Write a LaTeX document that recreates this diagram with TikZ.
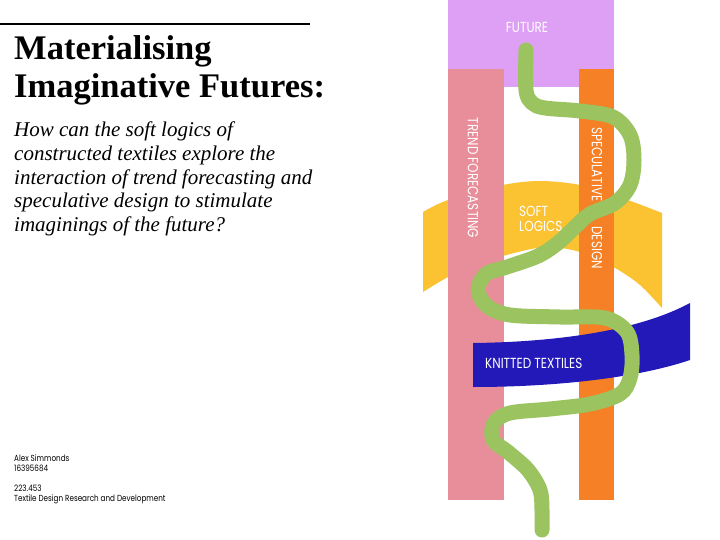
\documentclass[tikz,border=0pt]{standalone}
\usepackage{fontspec}
\setmainfont{Liberation Serif}
\newfontfamily\labfont[FakeStretch=0.82]{Poppins}
\definecolor{cpurple}{RGB}{221,160,245}
\definecolor{cpink}{RGB}{232,142,154}
\definecolor{corange}{RGB}{245,128,37}
\definecolor{cyellow}{RGB}{251,194,50}
\definecolor{cblue}{RGB}{35,25,185}
\definecolor{cgreen}{RGB}{155,195,95}
\begin{document}
\begin{tikzpicture}[x=1pt,y=-1pt,
  barlabel/.style={text=white,inner sep=0pt,font=\labfont\fontsize{14.6}{14}\selectfont},
  infotext/.style={inner sep=0pt,align=left,font=\labfont\fontsize{8.8}{10}\selectfont}]
\useasboundingbox[fill=white] (0,0) rectangle (720,540);
% top rule
\draw[line width=1.6pt] (0,24) -- (310,24);
% title
\node[anchor=base west,inner sep=0pt,align=left,font=\fontsize{34.5}{38}\selectfont\bfseries] (title) at (14,98) {Materialising\\Imaginative Futures:};
\node[anchor=base west,inner sep=0pt,align=left,font=\fontsize{21}{23.5}\selectfont\itshape] (sub) at (14,231) {How can the soft logics of\\constructed textiles explore the\\interaction of trend forecasting and\\speculative design to stimulate\\imaginings of the future?};
\node[anchor=base west,infotext] (info1) at (14,471) {Alex Simmonds\\16395684};
\node[anchor=base west,infotext] (info2) at (14,501) {223.453\\Textile Design Research and Development};
% diagram
\fill[cpurple] (448,0) rectangle (614,87);
\fill[cyellow] plot[smooth] coordinates {(423,212) (448,200) (503,185) (540,181) (580,185) (625,199) (662,213)}
  -- (662,308) -- plot[smooth] coordinates {(662,308) (640,285) (615,268) (580,252) (545,247) (503,256) (470,268) (448,277) (423,292)} -- cycle;
\fill[cpink] (448,69) rectangle (504,500);
\fill[corange] (579,69) rectangle (614,500);
\fill[cblue] (473,343) .. controls (560,342) and (640,330) .. (690,303) -- (690,360) .. controls (640,377) and (560,387) .. (473,387) -- cycle;
% labels
\node[barlabel,anchor=base] (future) at (527,33) {FUTURE};
\node[barlabel,rotate=-90] (trend) at (473,178) {TREND FORECASTING};
\node[barlabel,rotate=-90,anchor=west] (spec) at (597,127) {SPECULATIVE\hspace{25pt}DESIGN};
\node[barlabel,anchor=base west,align=left] (soft) at (519,231) {SOFT\\LOGICS};
\node[barlabel,anchor=base west] (knit) at (485,368) {KNITTED TEXTILES};
% green thread
\draw[cgreen,line width=15pt,line cap=round,line join=round] plot[smooth,tension=0.55] coordinates {
 (526,50) (526,90) (532,103) (545,108) (580,111) (613,117) (630,135) (634,160) (630,185) (615,203)
 (590,214) (574,228) (558,243) (538,256) (507,267) (486,274) (478,290) (487,306) (510,315) (560,317)
 (605,318) (627,332) (632,355) (630,378) (620,394) (590,404) (550,409) (510,413) (494,423) (493,440)
 (508,452) (528,470) (540,490) (542,510) (542,530)};
\end{tikzpicture}
\end{document}
